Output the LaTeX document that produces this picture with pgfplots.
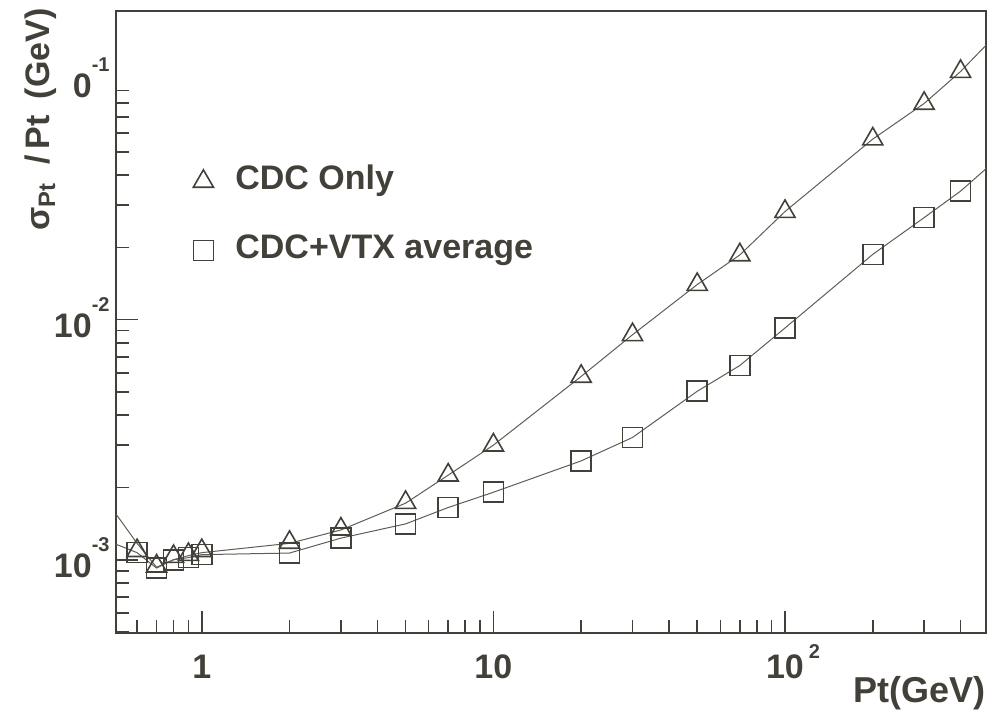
\documentclass[border=0pt]{standalone}
\usepackage{pgfplots}
\pgfplotsset{compat=1.18}
\usepackage{fontspec}
\setmainfont{Liberation Sans}
\definecolor{ink}{RGB}{66,64,56}
\newcommand{\expo}[1]{\raisebox{13pt}{\fontsize{10}{10}\selectfont\bfseries #1}}
\begin{document}
\begin{tikzpicture}
\begin{axis}[
  name=ax,
  xmode=log, ymode=log,
  scale only axis, width=435pt, height=311pt,
  xmin=0.508, xmax=489, ymin=4.95e-4, ymax=0.193,
  axis line style={ink, line width=1pt},
  xtick pos=bottom, ytick pos=left, tick align=inside,
  tick style={ink, line width=0.8pt},
  major tick length=11pt, minor tick length=6.5pt,
  xtick={1,10,100},
  minor xtick={0.6,0.7,0.8,0.9,2,3,4,5,6,7,8,9,20,30,40,50,60,70,80,90,200,300,400},
  ytick={1e-3,1e-2},
  minor ytick={5e-4,6e-4,7e-4,8e-4,9e-4,2e-3,3e-3,4e-3,5e-3,6e-3,7e-3,8e-3,9e-3,0.02,0.03,0.04,0.05,0.06,0.07,0.08,0.09},
  xticklabels={1,10,{10\rlap{\hspace{2.5pt}\raisebox{10pt}{\fontsize{10}{10}\selectfont\bfseries 2}}}},
  yticklabels={{10\expo{-3}},{10\expo{-2}}},
  extra y ticks={0.1},
  extra y tick labels={{10\expo{-1}}},
  extra y tick style={major tick length=0pt},
  xticklabel style={anchor=base, inner sep=0pt, yshift=-22.5pt},
  yticklabel style={anchor=base east, inner sep=0pt, xshift=-3pt, yshift=-9pt},
  tick label style={font=\fontsize{17}{17}\selectfont\bfseries, text=ink},
  legend style={at={(rel axis cs:0,1)}, anchor=north west, xshift=37.5pt, yshift=-77pt,
    draw=none, fill=none, inner sep=0pt, row sep=18.5pt, column sep=10pt,
    nodes={inner sep=0pt, text height=12pt, text depth=4pt, font=\fontsize{17}{17}\selectfont\bfseries, text=ink}},
  legend cell align=left,
  legend image code/.code={\path[draw=none, fill=none] (0pt,-6pt) rectangle (12pt,6pt); \draw[#1] plot coordinates {(6pt,0pt)};},
]
\addplot[ink!85, line width=0.5pt, forget plot] coordinates {
(0.508,1.55e-3) (0.6,1.17e-3) (0.7,0.93e-3) (0.8,1.0e-3) (0.9,1.04e-3) (1,1.07e-3)
(2,1.17e-3) (3,1.33e-3) (5,1.72e-3) (7,2.25e-3) (10,3.0e-3) (20,5.8e-3) (30,8.65e-3)
(50,0.0140) (70,0.0186) (100,0.0282) (200,0.0565) (300,0.0795) (400,0.108) (489,0.139)};
\addplot[only marks, mark=triangle, mark size=5.8pt, mark options={ink, line width=0.8pt}] coordinates {
(0.6,1.09e-3) (0.7,0.94e-3) (0.8,1.03e-3) (0.9,1.05e-3) (1,1.09e-3) (2,1.18e-3) (3,1.34e-3)
(5,1.73e-3) (7,2.25e-3) (10,3.0e-3) (20,5.8e-3) (30,8.65e-3) (50,0.0140) (70,0.0186)
(100,0.0282) (200,0.0565) (300,0.0795) (400,0.108)};
\addlegendentry{CDC Only}
\addplot[ink!85, line width=0.5pt, forget plot] coordinates {
(0.508,1.16e-3) (0.6,1.07e-3) (0.7,0.923e-3) (0.8,1.0e-3) (0.9,1.02e-3) (1,1.05e-3)
(2,1.066e-3) (3,1.23e-3) (5,1.41e-3) (7,1.65e-3) (10,1.91e-3) (20,2.58e-3) (30,3.23e-3)
(50,5.03e-3) (70,6.44e-3) (100,9.23e-3) (200,0.0187) (300,0.0266) (400,0.0343) (489,0.0425)};
\addplot[only marks, mark=square, mark size=5pt, mark options={ink, line width=0.8pt}] coordinates {
(0.6,1.07e-3) (0.7,0.923e-3) (0.8,1.0e-3) (0.9,1.02e-3) (1,1.05e-3) (2,1.066e-3) (3,1.23e-3)
(5,1.41e-3) (7,1.65e-3) (10,1.91e-3) (20,2.58e-3) (30,3.23e-3) (50,5.03e-3) (70,6.44e-3)
(100,9.23e-3) (200,0.0187) (300,0.0266) (400,0.0343)};
\addlegendentry{CDC+VTX average}
\end{axis}
\node[rotate=90, anchor=base east, inner xsep=0pt, inner ysep=8.5pt, fill=white, text=ink,
  font=\fontsize{17}{17}\selectfont\bfseries]
  at ([xshift=-33pt, yshift=1.5pt]ax.north west) {σ\textsubscript{Pt}\hspace{9pt}/\hspace{3pt}Pt\hspace{8pt}(GeV)};
\node[anchor=base east, inner sep=0pt, text=ink, font=\fontsize{18}{18}\selectfont\bfseries]
  at ([yshift=-34.5pt]ax.south east) {Pt(GeV)};
\path ([shift={(-58pt,-39.5pt)}]ax.south west) rectangle ([shift={(9.5pt,5.5pt)}]ax.north east);
\end{tikzpicture}
\end{document}
